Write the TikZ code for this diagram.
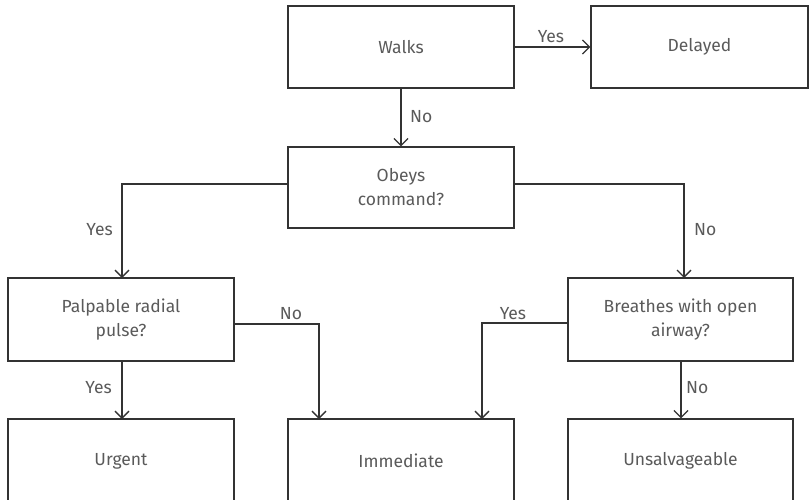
\documentclass[tikz,border=0pt]{standalone}
\usepackage{fontspec}
\setmainfont{Fira Sans}
\usetikzlibrary{arrows.meta}
\definecolor{linec}{HTML}{333333}
\definecolor{textc}{HTML}{5a5a5a}
\tikzset{
  box/.style={draw=linec, line width=1.3pt, minimum width=226pt, minimum height=82pt, inner sep=0pt, align=center, text=textc, font=\fontsize{17.5}{24}\selectfont},
  conn/.style={draw=linec, line width=1.3pt, -{Straight Barb[length=7pt,width=14pt,line width=1.3pt]}},
  lbl/.style={text=textc, font=\fontsize{17.5}{20}\selectfont, inner sep=0pt}
}
\begin{document}
\begin{tikzpicture}[x=1pt,y=-1pt]
\useasboundingbox (0,0) rectangle (809,499);
\node[box] (walks) at (401,47) {Walks};
\node[box, minimum width=217pt] (delayed) at (699.5,47) {Delayed};
\node[box, minimum height=81pt] (obeys) at (401,187.5) {Obeys\\command?};
\node[box, minimum height=83pt] (palp) at (121,319.5) {Palpable radial\\pulse?};
\node[box, minimum width=225pt, minimum height=83pt] (breath) at (680.5,319.5) {Breathes with open\\airway?};
\node[box, minimum height=84pt] (urgent) at (121,461) {Urgent};
\node[box, minimum height=84pt] (immed) at (401,461) {Immediate};
\node[box, minimum width=225pt, minimum height=84pt] (unsalv) at (680.5,461) {Unsalvageable};

\draw[conn] (walks.east) -- (delayed.west);
\node[lbl] (l1) at (551,37) {Yes};
\draw[conn] (walks.south) -- (obeys.north);
\node[lbl, anchor=west] (l2) at (410,117) {No};

\coordinate (pt) at (122,278);
\draw[conn] ([yshift=3.5pt]obeys.west) -| (pt);
\node[lbl, anchor=east] (l3) at (113,230) {Yes};
\coordinate (bt) at (684,278);
\draw[conn] ([yshift=3.5pt]obeys.east) -| (bt);
\node[lbl, anchor=west] (l4) at (694,230) {No};

\coordinate (it1) at (319,419);
\draw[conn] ([yshift=-4.5pt]palp.east) -| (it1);
\node[lbl] (l5) at (291,314) {No};
\coordinate (it2) at (482,419);
\draw[conn] ([yshift=-3.5pt]breath.west) -| (it2);
\node[lbl] (l6) at (513,314) {Yes};

\coordinate (ut) at (122,419);
\draw[conn] (122,361) -- (ut);
\node[lbl, anchor=east] (l7) at (112,388) {Yes};
\draw[conn] ([xshift=0.5pt]breath.south) -- ([xshift=0.5pt]unsalv.north);
\node[lbl, anchor=west] (l8) at (686,388) {No};
\end{tikzpicture}
\end{document}
